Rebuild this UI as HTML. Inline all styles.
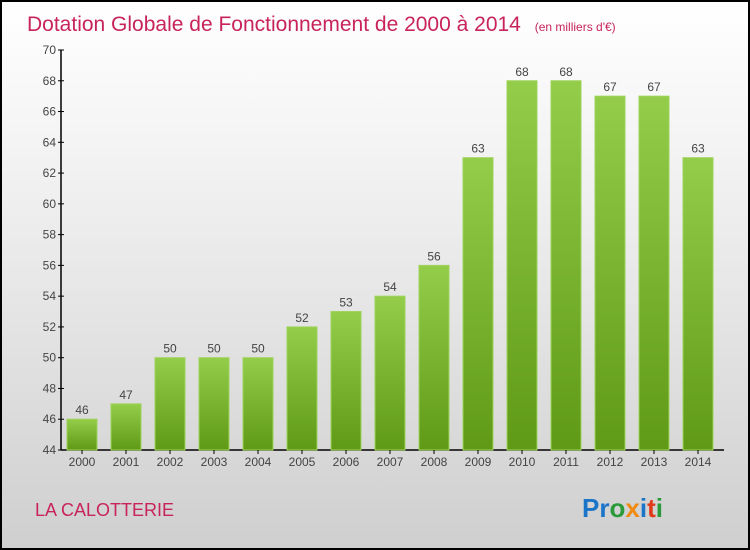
<!DOCTYPE html>
<html><head><meta charset="utf-8"><style>
body{margin:0}
#c{position:relative;width:750px;height:550px;box-sizing:border-box;border:2px solid #000;background:linear-gradient(#ffffff,#f2f2f2 30%,#cfcfcf);font-family:"Liberation Sans",sans-serif;overflow:hidden}
</style></head><body>
<div id="c">
<svg width="746" height="546" style="position:absolute;left:0;top:0" id="svg">
<defs><linearGradient id="g" x1="0" y1="0" x2="0" y2="1"><stop offset="0" stop-color="#93cd4a"/><stop offset="1" stop-color="#5f9a16"/></linearGradient></defs>
<text x="25" y="29" font-size="21" fill="#c8245a">Dotation Globale de Fonctionnement de 2000 à 2014 <tspan font-size="12" dx="8">(en milliers d'€)</tspan></text>
<text x="33" y="514" font-size="18" fill="#c8245a">LA CALOTTERIE</text>
<text x="580" y="515" font-size="26" font-weight="bold"><tspan fill="#1a75c9">Pr</tspan><tspan fill="#2a9a3a">o</tspan><tspan fill="#f08a10">x</tspan><tspan fill="#1a75c9">i</tspan><tspan fill="#e03a1a">t</tspan><tspan fill="#2a9a3a">i</tspan></text>
<g id="plot"></g>
</svg>
</div>
<script>
const years=["2000","2001","2002","2003","2004","2005","2006","2007","2008","2009","2010","2011","2012","2013","2014"];
const values=[46,47,50,50,50,52,53,54,56,63,68,68,67,67,63];
const ticks=[44,46,48,50,52,54,56,58,60,62,64,66,68,70];
const ns="http://www.w3.org/2000/svg";
const g=document.getElementById('plot');
const ymin=44,ymax=70,yb=448,yt=48,x0=59,step=44;
const y=v=>yb-(v-ymin)/(ymax-ymin)*(yb-yt);
const xc=i=>x0+21+i*step;
function el(t,a){const e=document.createElementNS(ns,t);for(const k in a)e.setAttribute(k,a[k]);g.appendChild(e);return e;}
let ax=el('line',{x1:x0,y1:yt,x2:x0,y2:yb,stroke:'#000','stroke-width':1.5});


let bx=el('line',{x1:x0,y1:yb,x2:722,y2:yb,stroke:'#000','stroke-width':1.5});


ticks.forEach(t=>{
 let l=el('line',{x1:x0-3,y1:y(t),x2:x0+3,y2:y(t),stroke:'#000'});
 
 
 let tx=el('text',{x:x0-5,y:y(t)+4,'font-size':12,fill:'#444','text-anchor':'end'});
 tx.textContent=t;
 
 
});
years.forEach((yr,i)=>{
 const v=values[i];
 let r=el('rect',{x:xc(i)-15,y:y(v),width:30,height:yb-y(v),fill:'url(#g)',stroke:'#9fd35a','stroke-width':1});
 
 
 let lb=el('text',{x:xc(i),y:y(v)-5,'font-size':12,fill:'#444','text-anchor':'middle'});
 lb.textContent=v;
 
 
 let tk=el('line',{x1:xc(i),y1:yb,x2:xc(i),y2:yb+4,stroke:'#000'});
 
 
 let xl=el('text',{x:xc(i),y:yb+16,'font-size':12,fill:'#444','text-anchor':'middle'});
 xl.textContent=yr;
 
 
});
</script>
</body></html>
